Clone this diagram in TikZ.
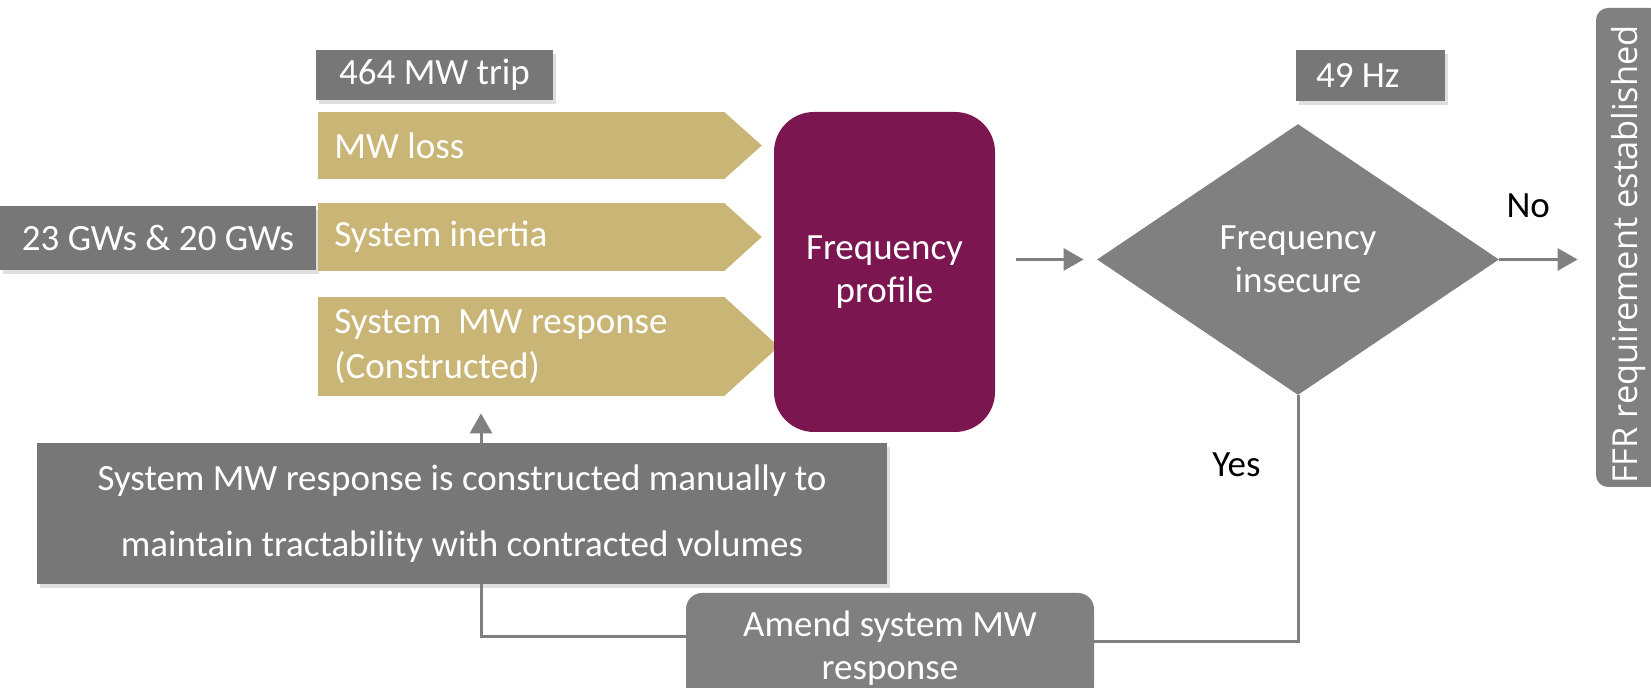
\documentclass[tikz,border=0pt]{standalone}
\usepackage{fontspec}
\setmainfont{Carlito}
\newfontfamily\ffrfont{Open Sans}
\usetikzlibrary{arrows.meta,shapes.geometric,shadows}

\definecolor{gold}{RGB}{201,181,118}
\definecolor{plum}{RGB}{124,22,80}
\definecolor{slate}{RGB}{119,119,119}
\definecolor{ash}{RGB}{128,128,128}

\begin{document}
\begin{tikzpicture}[x=0.5pt,y=-0.5pt,
    every node/.style={font=\fontsize{18.5}{21.5}\selectfont},
    tag/.style={fill=slate,text=white,inner sep=0pt,
      drop shadow={opacity=0.25,shadow xshift=1.5pt,shadow yshift=-2pt}},
    chevron/.style={fill=gold,text=white,anchor=west,inner xsep=8pt,inner ysep=0pt,
      text width=187.5pt,align=flush left},
    link/.style={draw=ash,line width=1.5pt},
    flow/.style={link,-{Triangle[length=10pt,width=11pt]}}]
  \useasboundingbox (0,0) rectangle (1651,688);

  % inputs
  \node[tag,minimum width=118.5pt,minimum height=25pt] (trip) at (434.5,75) {464 MW trip};
  \node[tag,minimum width=158pt,minimum height=32pt] (gws) at (158,238) {23 GWs \& 20 GWs};
  \node[chevron,minimum height=33.5pt] (loss) at (318,145.5) {MW loss};
  \node[chevron,minimum height=34pt] (inertia) at (318,237) {System inertia};
  \node[chevron,minimum height=49.5pt,font=\fontsize{18.5}{22.5}\selectfont] (resp) at (318,346.5)
    {System\ \ MW response\\(Constructed)};
  \foreach \n/\t in {loss/18pt,inertia/18pt,resp/26.5pt}
    \fill[gold] ([xshift=-1pt]\n.north east) -- ([xshift=\t]\n.east) -- ([xshift=-1pt]\n.south east) -- cycle;

  % profile and check
  \node[fill=plum,text=white,rounded corners=20pt,minimum width=110.5pt,minimum height=160pt,
    align=center] (prof) at (884.5,272) {Frequency\\profile};
  \node[diamond,fill=ash,text=white,minimum width=201pt,minimum height=135.5pt,inner sep=0pt,
    align=center] (dec) at (1298,259.5) {Frequency\\insecure};
  \node[tag,minimum width=74.5pt,minimum height=25.5pt,text width=54.5pt,inner xsep=10pt,
    align=flush left] (hz) at (1370.5,75.5) {49 Hz};
  \node[fill=ash,text=white,rotate=90,rounded corners=6pt,minimum height=33pt,inner xsep=0pt,
    text width=239.5pt,align=flush left,font=\ffrfont\fontsize{17.2}{20}\selectfont] (ffr) at (1629,247.5)
    {\hspace*{1.5pt}FFR requirement established};

  \draw[flow,shorten <=10.5pt,shorten >=6.5pt] (prof.east |- dec.west) -- (dec.west);
  \draw[flow,shorten >=9pt] (dec.east) -- node[pos=0.3,above=20pt,inner sep=0pt] {No} (ffr.north |- dec.east);

  % loop back
  \node[fill=ash,text=white,rounded corners=8pt,minimum width=204pt,minimum height=55pt,
    align=center] (amend) at (890,648) {Amend system MW\\response};
  \coordinate (bend) at (481,637);
  \draw[link] (dec.south) |- node[pos=0.14,left=18pt,inner sep=0pt] {Yes} ([yshift=3pt]amend.east);
  \draw[flow,shorten >=8.5pt] ([yshift=5.5pt]amend.west) -- (bend) -- (bend |- resp.south);
  \node[tag,minimum width=425pt,minimum height=70.5pt,align=center,
    font=\fontsize{18.5}{33}\selectfont] (note) at (462,513.5)
    {System MW response is constructed manually to\\maintain tractability with contracted volumes};
\end{tikzpicture}
\end{document}
